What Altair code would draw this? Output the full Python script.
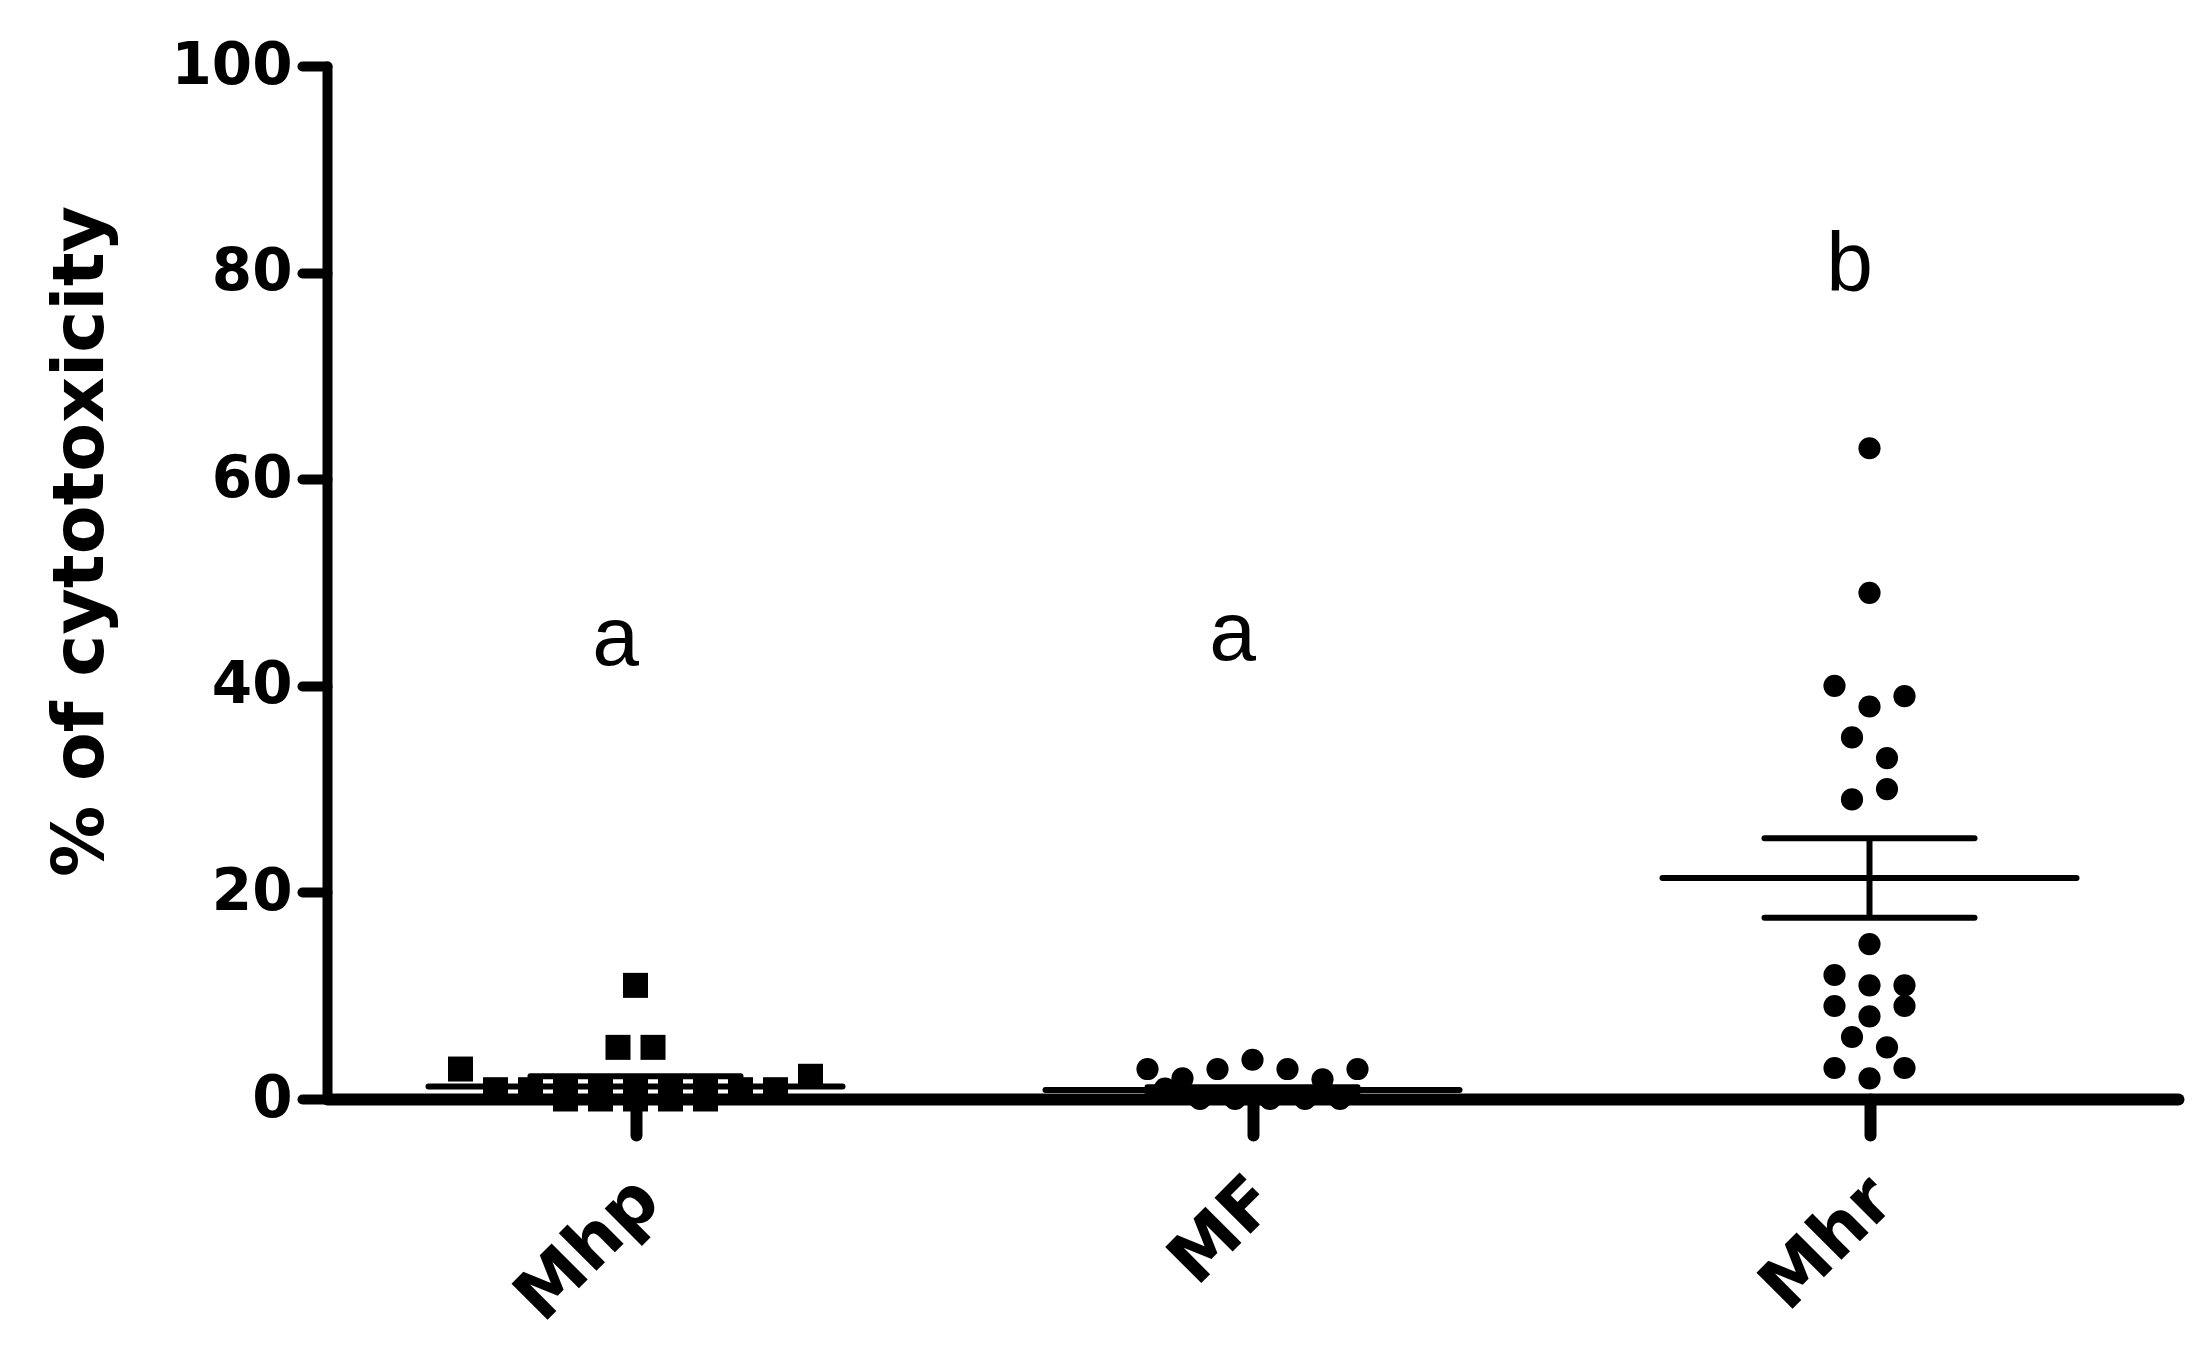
import altair as alt
import pandas as pd

# ---------------- data ----------------
groups = ["Mhp", "MF", "Mhr"]
mhp_values = [2.9, 0.9, 0.9, 0.9, 0.0, 0.9, 5.0, 0.0, 0.9, 11.0, 0.0, 0.9, 5.0, 0.0, 0.9, 0.0, 0.9, 0.9, 2.2]
mf_values = [2.9, 2.0, 1.0, 0.0, 0.0, 2.9, 3.8, 2.9, 0.0, 0.0, 0.0, 1.9, 2.9]
mhr_values = [63, 49, 40, 38, 39, 35, 33, 29, 30, 15, 12, 11, 11, 9, 8, 9, 6, 5, 3, 2, 3]
means = [1.2, 0.87, 21.4]
sems = [1.0, 0.27, 3.85]
letters = ["a", "a", "b"]
letter_heights = [42.0, 42.5, 78.2]

# ---------------- layout constants ----------------
W, H = 1851, 1033
UNIT = W / 3.0          # pixels per category unit on the x scale
STEP_PX = 35            # horizontal spacing of points sharing a row
ROW_H = 2.05            # value range gathered into one row (top-down)
MEAN_HALF = 207 / UNIT
SEM_HALF = 105 / UNIT


def row_offsets(vals):
    """GraphPad-like scatter: group points into rows from the top, spread each row."""
    order = sorted(range(len(vals)), key=lambda i: -vals[i])
    rows, cur, top = [], [], None
    for i in order:
        if cur and top - vals[i] < ROW_H:
            cur.append(i)
        else:
            if cur:
                rows.append(cur)
            cur, top = [i], vals[i]
    if cur:
        rows.append(cur)
    off = [0.0] * len(vals)
    for r in rows:
        r = sorted(r)
        m = len(r)
        for k, i in enumerate(r):
            off[i] = (k - (m - 1) / 2.0) * STEP_PX / UNIT
    return off


rows = []
for gi, (g, vals) in enumerate(zip(groups, [mhp_values, mf_values, mhr_values])):
    offs = row_offsets(vals)
    for v, o in zip(vals, offs):
        rows.append({"group": g, "value": v, "x": gi + 0.5 + o})
pts = pd.DataFrame(rows)

summ = pd.DataFrame({
    "group": groups,
    "pos": [i + 0.5 for i in range(3)],
    "mean": means,
    "lo": [m - s for m, s in zip(means, sems)],
    "hi": [m + s for m, s in zip(means, sems)],
    "letter": letters,
    "ly": letter_heights,
})
summ["mx1"] = summ["pos"] - MEAN_HALF
summ["mx2"] = summ["pos"] + MEAN_HALF
summ["sx1"] = summ["pos"] - SEM_HALF
summ["sx2"] = summ["pos"] + SEM_HALF

label_expr = "datum.value < 1 ? '%s' : (datum.value < 2 ? '%s' : '%s')" % tuple(groups)

xscale = alt.Scale(domain=[0, 3], nice=False, zero=False)
yscale = alt.Scale(domain=[0, 100], nice=False, zero=True)

x_axis = alt.Axis(
    values=[0.5, 1.5, 2.5], labelExpr=label_expr, title=None, grid=False,
    domainWidth=12, domainColor="black", domainCap="round",
    tickWidth=12, tickSize=36, tickColor="black", tickCap="round",
    labelFont="DejaVu Sans", labelFontWeight="bold", labelFontSize=70,
    labelColor="black", labelAngle=-45, labelAlign="right", labelBaseline="top",
    labelPadding=30, labelOffset=-12,
)
y_axis = alt.Axis(
    values=[0, 20, 40, 60, 80, 100], title="% of cytotoxicity", grid=False,
    domainWidth=10, domainColor="black", domainCap="round",
    tickWidth=10, tickSize=25, tickColor="black", tickCap="round",
    labelFont="DejaVu Sans", labelFontWeight="bold", labelFontSize=58,
    labelColor="black", labelPadding=10,
    titleFont="DejaVu Sans", titleFontWeight="bold", titleFontSize=71,
    titleColor="black", titleAngle=270, titleX=-246, titleY=475,
    titleAlign="center", titleBaseline="middle",
)


def X(field):
    return alt.X(field, type="quantitative", scale=xscale, axis=x_axis)


def Y(field):
    return alt.Y(field, type="quantitative", scale=yscale, axis=y_axis)


base_pts = alt.Chart(pts)
squares = base_pts.transform_filter(alt.datum.group == groups[0]).mark_square(
    size=625, color="black", opacity=1
).encode(x=X("x"), y=Y("value"))
circles = base_pts.transform_filter(alt.datum.group != groups[0]).mark_circle(
    size=491, color="black", opacity=1
).encode(x=X("x"), y=Y("value"))

base_s = alt.Chart(summ)
mean_rule = base_s.mark_rule(color="black", strokeWidth=6, strokeCap="round").encode(
    x=X("mx1"), x2="mx2", y=Y("mean"))
hi_rule = base_s.mark_rule(color="black", strokeWidth=6, strokeCap="round").encode(
    x=X("sx1"), x2="sx2", y=Y("hi"))
lo_rule = base_s.mark_rule(color="black", strokeWidth=6, strokeCap="round").encode(
    x=X("sx1"), x2="sx2", y=Y("lo"))
v_rule = base_s.mark_rule(color="black", strokeWidth=6).encode(
    x=X("pos"), y=Y("lo"), y2="hi")
text = base_s.mark_text(
    font="Liberation Sans", fontSize=84, color="black", dx=-20,
    align="center", baseline="alphabetic"
).encode(x=X("pos"), y=Y("ly"), text="letter:N")

chart = alt.layer(squares, circles, mean_rule, hi_rule, lo_rule, v_rule, text).properties(
    width=W, height=H,
    padding={"left": 319, "top": 58, "right": 10, "bottom": 240},
    autosize=alt.AutoSizeParams(type="none"),
    background="white",
).configure_view(stroke=None)

chart.save("out.html", embed_options={"renderer": "svg", "actions": False})
